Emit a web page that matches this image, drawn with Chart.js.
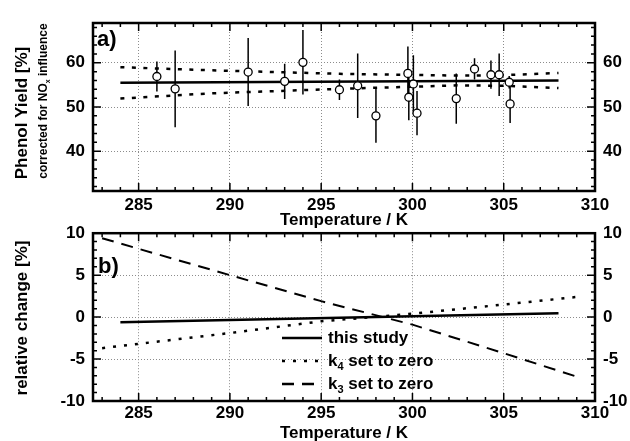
<!DOCTYPE html>
<html>
<head>
<title>Phenol Yield vs Temperature</title>
<script src="https://cdn.jsdelivr.net/npm/chart.js"></script>
<style>
  body { margin: 0; background: #fff; }
  #wrap { position: relative; width: 630px; height: 441px; }
  #top { position: absolute; left: 0; top: 0; }
  #bottom { position: absolute; left: 0; top: 215px; }
</style>
</head>
<body>
<div id="wrap">
  <canvas id="top" width="630" height="232"></canvas>
  <canvas id="bottom" width="630" height="226"></canvas>
</div>
<script>
// panel a) measured yields
const temps  = [286.0, 287.0, 291.0, 293.0, 294.0, 296.0, 297.0, 298.0, 299.75, 299.8, 300.05, 300.25, 302.4, 303.4, 304.3, 304.75, 305.3, 305.35];
const yields = [56.9, 54.1, 57.9, 55.8, 60.1, 53.9, 54.8, 48.0, 57.6, 52.2, 55.2, 48.6, 51.9, 58.6, 57.3, 57.3, 55.6, 50.7];
const errors = [3.4, 8.7, 7.7, 4.0, 7.3, 2.3, 7.3, 6.1, 6.1, 5.2, 6.5, 5.0, 5.7, 2.4, 3.2, 4.8, 1.4, 4.3];

// panel a) fit and confidence band
const fitT = [284, 308];
const fitY = [55.5, 56.0];
const bandT = [284, 289, 296, 302.5, 305, 308];
const bandUpper = [59.0, 58.3, 57.5, 57.1, 57.2, 57.7];
const bandLower = [51.9, 53.1, 54.1, 54.9, 54.8, 54.3];

// panel b) relative change
const studyT = [284, 308];
const studyY = [-0.6, 0.45];
const kT = [283, 290, 295, 300, 305, 309];
const k4Zero = [-3.7, -1.9, -0.5, 0.4, 1.5, 2.4];
const k3Zero = [9.4, 5.0, 1.9, -0.9, -4.3, -7.1];

// ticks
const xTicks = [285, 290, 295, 300, 305, 310];
const yTicksA = [40, 50, 60];
const yTicksB = [-10, -5, 0, 5, 10];

const FAMILY = '"Liberation Sans", Arial, sans-serif';
const bold = s => `bold ${s}px ${FAMILY}`;
const tickFont = { family: FAMILY, size: 17, weight: 'bold' };

const pts = (xs, ys) => xs.map((x, i) => ({ x: x, y: ys[i] }));

function drawRich(ctx, parts, cx, cy, size, opts) {
  opts = opts || {};
  const subSize = Math.round(size * 0.62);
  const widths = parts.map(([t, sub]) => { ctx.font = bold(sub ? subSize : size); return ctx.measureText(t).width; });
  const total = widths.reduce((a, b) => a + b, 0);
  ctx.save();
  ctx.translate(cx, cy);
  if (opts.rotate) ctx.rotate(-Math.PI / 2);
  let x = opts.align === 'left' ? 0 : -total / 2;
  ctx.textBaseline = 'middle';
  ctx.textAlign = 'left';
  ctx.fillStyle = '#000';
  parts.forEach(([t, sub], i) => {
    ctx.font = bold(sub ? subSize : size);
    ctx.fillText(t, x, sub ? size * 0.35 : 0);
    x += widths[i];
  });
  ctx.restore();
}

// frame, inward ticks, and extra texts
const framePlugin = {
  id: 'frame',
  afterDraw(chart, args, o) {
    const { ctx, chartArea: a, scales } = chart;
    const x = scales.x, y = scales.y;
    ctx.save();
    ctx.strokeStyle = '#000';
    ctx.lineWidth = 1.5;
    ctx.beginPath();
    for (let v = Math.ceil(x.min); v <= x.max; v += o.xMinor) {
      const px = x.getPixelForValue(v);
      const len = v % o.xMajor === 0 ? 8 : 4;
      ctx.moveTo(px, a.top); ctx.lineTo(px, a.top + len);
      ctx.moveTo(px, a.bottom); ctx.lineTo(px, a.bottom - len);
    }
    for (let v = Math.ceil(y.min / o.yMinor) * o.yMinor; v <= y.max; v += o.yMinor) {
      const py = y.getPixelForValue(v);
      const len = Math.abs(v % o.yMajor) < 1e-9 ? 8 : 4;
      ctx.moveTo(a.left, py); ctx.lineTo(a.left + len, py);
      ctx.moveTo(a.right, py); ctx.lineTo(a.right - len, py);
    }
    ctx.stroke();
    ctx.lineWidth = 2.5;
    ctx.strokeRect(a.left, a.top, a.right - a.left, a.bottom - a.top);
    ctx.restore();
    if (o.draw) o.draw(ctx, a);
  }
};

// vertical error bars for panel a)
const errorBarPlugin = {
  id: 'errorBars',
  beforeDatasetsDraw(chart) {
    const { ctx, chartArea: a, scales: { x, y } } = chart;
    ctx.save();
    ctx.beginPath();
    ctx.rect(a.left, a.top, a.right - a.left, a.bottom - a.top);
    ctx.clip();
    ctx.strokeStyle = '#000';
    ctx.lineWidth = 1.5;
    ctx.beginPath();
    temps.forEach((t, i) => {
      const px = x.getPixelForValue(t);
      ctx.moveTo(px, y.getPixelForValue(yields[i] + errors[i]));
      ctx.lineTo(px, y.getPixelForValue(yields[i] - errors[i]));
    });
    ctx.stroke();
    ctx.restore();
  }
};

function xScale(h, pad) {
  return {
    type: 'linear', min: 282.5, max: 310,
    afterBuildTicks: s => { s.ticks = xTicks.map(v => ({ value: v })); },
    afterFit: s => { s.height = h; },
    grid: { color: '#8c8c8c', lineWidth: 1, drawTicks: false },
    border: { display: false, dash: [1, 2] },
    ticks: { font: tickFont, color: '#000', padding: pad, autoSkip: false, maxRotation: 0 }
  };
}

function yScale(min, max, list, side, w) {
  return {
    type: 'linear', position: side, min: min, max: max,
    afterBuildTicks: s => { s.ticks = list.map(v => ({ value: v })); },
    afterFit: s => { s.width = w; },
    grid: { display: side === 'left', color: '#8c8c8c', lineWidth: 1, drawTicks: false },
    border: { display: false, dash: [1, 2] },
    ticks: { font: tickFont, color: '#000', padding: 8, autoSkip: false }
  };
}

const common = {
  responsive: false,
  animation: false,
  events: [],
  plugins: { legend: { display: false }, tooltip: { enabled: false } }
};

new Chart(document.getElementById('top'), {
  type: 'scatter',
  data: {
    datasets: [
      { data: pts(temps, yields), pointRadius: 4, pointBackgroundColor: '#fff', pointBorderColor: '#000', pointBorderWidth: 1.3, order: 0 },
      { data: pts(fitT, fitY), showLine: true, pointRadius: 0, borderColor: '#000', borderWidth: 2.5, order: 1 },
      { data: pts(bandT, bandUpper), showLine: true, pointRadius: 0, borderColor: '#000', borderWidth: 2.5, borderDash: [4, 7.5], order: 1 },
      { data: pts(bandT, bandLower), showLine: true, pointRadius: 0, borderColor: '#000', borderWidth: 2.5, borderDash: [4, 7.5], order: 1 }
    ]
  },
  options: Object.assign({}, common, {
    layout: { padding: { top: 23 } },
    scales: {
      x: xScale(41, 4),
      y: yScale(31, 69, yTicksA, 'left', 93),
      y2: yScale(31, 69, yTicksA, 'right', 35)
    },
    plugins: Object.assign({}, common.plugins, {
      frame: {
        xMinor: 1, xMajor: 5, yMinor: 2, yMajor: 10,
        draw(ctx, a) {
          drawRich(ctx, [['a)', false]], 97, 40, 22, { align: 'left' });
          drawRich(ctx, [['Phenol Yield [%]', false]], 22, 113, 17, { rotate: true });
          drawRich(ctx, [['corrected for NO', false], ['x', true], [' influence', false]], 44, 101, 12, { rotate: true });
          drawRich(ctx, [['Temperature / K', false]], (a.left + a.right) / 2, 220, 17);
        }
      }
    })
  }),
  plugins: [errorBarPlugin, framePlugin]
});

const legendItems = [
  { parts: [['this study', false]], dash: [] },
  { parts: [['k', false], ['4', true], [' set to zero', false]], dash: [3, 8] },
  { parts: [['k', false], ['3', true], [' set to zero', false]], dash: [12, 8] }
];

new Chart(document.getElementById('bottom'), {
  type: 'scatter',
  data: {
    datasets: [
      { data: pts(studyT, studyY), showLine: true, pointRadius: 0, borderColor: '#000', borderWidth: 2.5 },
      { data: pts(kT, k4Zero), showLine: true, pointRadius: 0, borderColor: '#000', borderWidth: 2.5, borderDash: [3, 8] },
      { data: pts(kT, k3Zero), showLine: true, pointRadius: 0, borderColor: '#000', borderWidth: 2, borderDash: [12, 8] }
    ]
  },
  options: Object.assign({}, common, {
    layout: { padding: { top: 18 } },
    scales: {
      x: xScale(40, 2),
      y: yScale(-10, 10, yTicksB, 'left', 93),
      y2: yScale(-10, 10, yTicksB, 'right', 35)
    },
    plugins: Object.assign({}, common.plugins, {
      frame: {
        xMinor: 1, xMajor: 5, yMinor: 1, yMajor: 5,
        draw(ctx, a) {
          drawRich(ctx, [['b)', false]], 98, 52, 22, { align: 'left' });
          drawRich(ctx, [['relative change [%]', false]], 22, 103, 17, { rotate: true });
          drawRich(ctx, [['Temperature / K', false]], (a.left + a.right) / 2, 218, 17);
          legendItems.forEach((it, i) => {
            const yy = 123 + i * 23;
            ctx.save();
            ctx.strokeStyle = '#000';
            ctx.lineWidth = 2.5;
            ctx.setLineDash(it.dash);
            ctx.beginPath();
            ctx.moveTo(282, yy); ctx.lineTo(322, yy);
            ctx.stroke();
            ctx.restore();
            drawRich(ctx, it.parts, 328, yy, 17, { align: 'left' });
          });
        }
      }
    })
  }),
  plugins: [framePlugin]
});
</script>
</body>
</html>
